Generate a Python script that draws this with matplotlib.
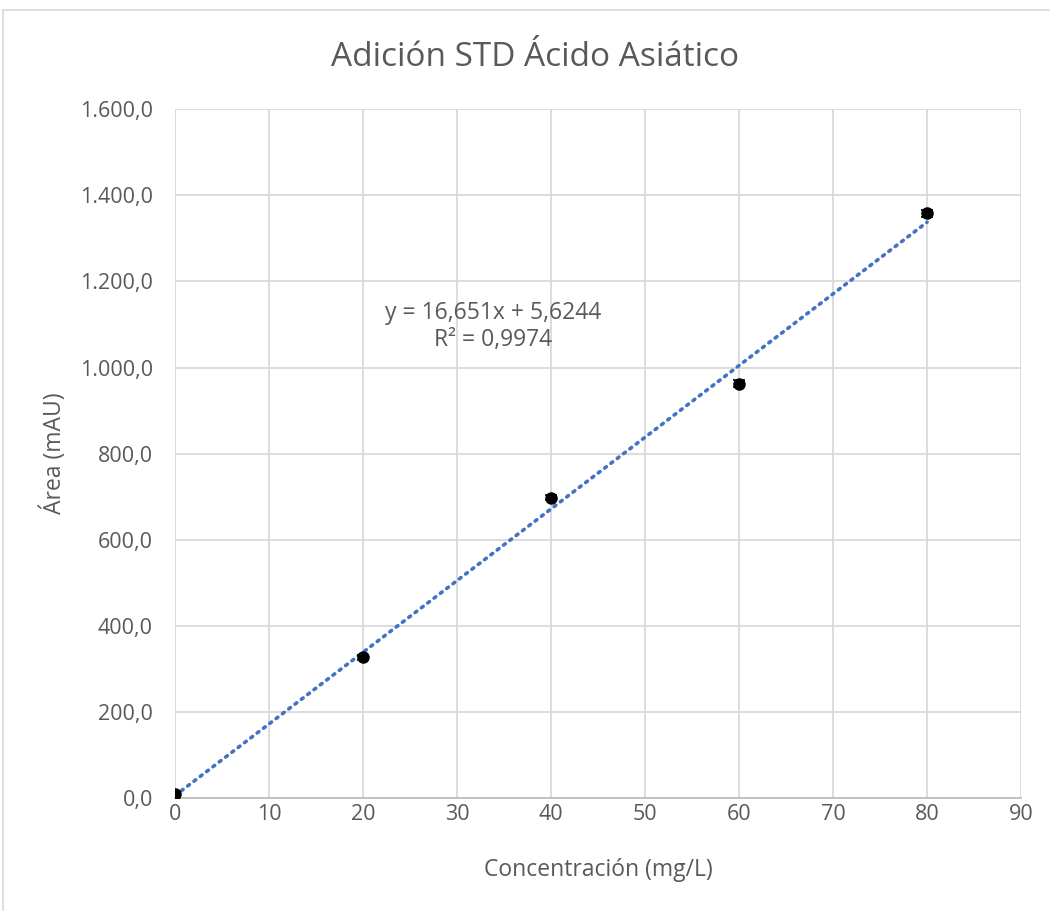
import numpy as np
import matplotlib.pyplot as plt
from matplotlib.patches import Rectangle
from matplotlib.ticker import FuncFormatter

plt.rcParams['font.family'] = ['Open Sans', 'DejaVu Sans']

# data
conc = [0, 20, 40, 60, 80]
area = [10, 327, 698, 963, 1358]
area_err = [4, 6, 5, 8, 7]

# trendline coefficients as shown on the chart
slope = 16.651
intercept = 5.6244
r2 = 0.9974

x_ticks = list(range(0, 100, 10))
y_ticks = list(range(0, 1800, 200))


def fmt_es(v, pos):
    # Spanish style number: 1.600,0
    s = '{:,.1f}'.format(v)
    return s.replace(',', 'X').replace('.', ',').replace('X', '.')


fig = plt.figure(figsize=(10.5, 9.11), dpi=100)
ax = fig.add_axes([0.1667, 0.124, 0.8057, 0.756])

fit_x = np.array([0, 80])
ax.plot(fit_x, slope * fit_x + intercept, linestyle=(0, (0.6, 1.6)),
        color='#4472C4', linewidth=2.6, dash_capstyle='round', zorder=2)

ax.errorbar(conc, area, yerr=area_err, fmt='o', color='black', markersize=8,
            capsize=4, elinewidth=1, capthick=1.2, zorder=3)

ax.set_xlim(0, 90)
ax.set_ylim(0, 1600)
ax.set_xticks(x_ticks)
ax.set_yticks(y_ticks)
ax.yaxis.set_major_formatter(FuncFormatter(fmt_es))
ax.grid(True, color='#d9d9d9', linewidth=1.3)
ax.set_axisbelow(True)
for side in ['top', 'right', 'left']:
    ax.spines[side].set_visible(False)
ax.spines['bottom'].set_color('#bfbfbf')
ax.spines['bottom'].set_linewidth(1.3)
ax.tick_params(length=0, labelsize=15.5, labelcolor='#595959')
ax.tick_params(axis='y', pad=16)
ax.tick_params(axis='x', pad=4)

ax.set_xlabel('Concentración (mg/L)', fontsize=16.5, color='#595959', labelpad=24)
ax.set_ylabel('Área (mAU)', fontsize=16.5, color='#595959', labelpad=9)
fig.text(0.510, 0.937, 'Adición STD Ácido Asiático', fontsize=24,
         color='#595959', ha='center', va='center')

ax.text(33.8, 1096, 'y = 16,651x + 5,6244\nR² = 0,9974', fontsize=16.5,
        color='#595959', ha='center', va='center', linespacing=1.15)

fig.patches.append(Rectangle((3 / 1050, -0.01), 1.0, 1 - 10 / 911 + 0.01,
                             transform=fig.transFigure, fill=False,
                             edgecolor='#d9d9d9', linewidth=1.2))

fig.savefig('out.png', dpi=100)
